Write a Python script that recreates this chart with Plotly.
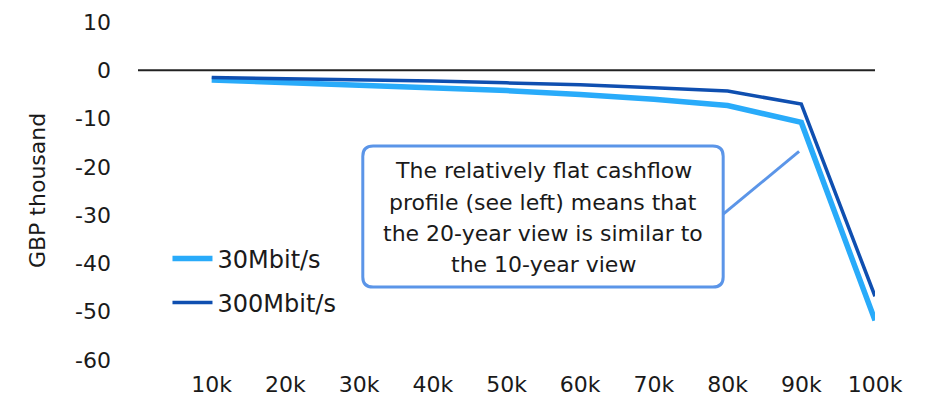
import plotly.graph_objects as go

# Household income band (GBP thousand) and cumulative NPV per household
income_k = [10, 20, 30, 40, 50, 60, 70, 80, 90, 100]
tick_labels = ["10k", "20k", "30k", "40k", "50k", "60k", "70k", "80k", "90k", "100k"]
npv_30 = [-2.0, -2.5, -3.0, -3.5, -4.2, -5.0, -6.0, -7.3, -10.8, -51.8]
npv_300 = [-1.5, -1.7, -1.9, -2.2, -2.6, -3.0, -3.6, -4.3, -7.0, -46.8]

series_names = ["30Mbit/s", "300Mbit/s"]
y_ticks = [10, 0, -10, -20, -30, -40, -50, -60]
y_tick_labels = ["10", "0", "-10", "-20", "-30", "-40", "-50", "-60"]

callout_lines = [
    "The relatively flat cashflow",
    "profile (see left) means that",
    "the 20-year view is similar to",
    "the 10-year view",
]

FONT = "DejaVu Sans"
TEXT = "#1a1a1a"
LIGHT = "#29abfa"
DARK = "#0f4fb0"
CALLOUT = "#5b95e8"

fig = go.Figure()
fig.add_trace(go.Scatter(
    x=income_k, y=npv_30, mode="lines", name=series_names[0],
    legendgroup="a", line=dict(color=LIGHT, width=5.5),
))
fig.add_trace(go.Scatter(
    x=income_k, y=npv_300, mode="lines", name=series_names[1],
    legendgroup="b", line=dict(color=DARK, width=3.5),
))

# zero reference line
fig.add_shape(type="line", x0=0, x1=100, y0=0, y1=0, xref="x", yref="y",
              line=dict(color="#222222", width=2), layer="below")

# rounded callout box
bx0, bx1, by0, by1 = 30.5, 79.4, -44.9, -15.7
rx, ry = 1.4, 2.1
path = (
    f"M {bx0 + rx},{by1} L {bx1 - rx},{by1} Q {bx1},{by1} {bx1},{by1 - ry} "
    f"L {bx1},{by0 + ry} Q {bx1},{by0} {bx1 - rx},{by0} "
    f"L {bx0 + rx},{by0} Q {bx0},{by0} {bx0},{by0 + ry} "
    f"L {bx0},{by1 - ry} Q {bx0},{by1} {bx0 + rx},{by1} Z"
)
fig.add_shape(type="path", path=path, xref="x", yref="y",
              line=dict(color=CALLOUT, width=3), fillcolor="white")
# pointer from the callout towards the 90k point
fig.add_shape(type="line", x0=bx1, y0=-29.8, x1=89.7, y1=-16.8, xref="x", yref="y",
              line=dict(color=CALLOUT, width=3))

line_y = [-20.7, -27.3, -33.7, -40.3]
for txt, yy in zip(callout_lines, line_y):
    fig.add_annotation(x=55.0, y=yy, xref="x", yref="y", text=txt, showarrow=False,
                       font=dict(family=FONT, size=22, color=TEXT),
                       xanchor="center", yanchor="middle")

# y-axis title
fig.add_annotation(x=-0.137, y=0.5, xref="paper", yref="paper", text="GBP thousand",
                   textangle=-90, showarrow=False,
                   font=dict(family=FONT, size=22, color=TEXT),
                   xanchor="center", yanchor="middle")

fig.update_layout(
    width=926, height=400,
    margin=dict(l=138, r=51, t=22, b=40),
    paper_bgcolor="white", plot_bgcolor="white",
    showlegend=True,
    legend=dict(
        x=0.040, y=0.366, xanchor="left", yanchor="top",
        font=dict(family=FONT, size=24, color=TEXT),
        bgcolor="rgba(0,0,0,0)", borderwidth=0,
        traceorder="grouped", tracegroupgap=10, itemwidth=40,
    ),
    xaxis=dict(
        range=[0, 100], tickmode="array", tickvals=income_k, ticktext=tick_labels,
        showgrid=False, zeroline=False, showline=False, ticks="", automargin=False,
        tickfont=dict(family=FONT, size=22, color=TEXT), ticklabelstandoff=9,
    ),
    yaxis=dict(
        range=[-60, 10], tickmode="array", tickvals=y_ticks, ticktext=y_tick_labels,
        showgrid=False, zeroline=False, showline=False, ticks="", automargin=False,
        tickfont=dict(family=FONT, size=22, color=TEXT), ticklabelstandoff=26,
    ),
    hovermode=False,
)

fig.write_html("out.html")
